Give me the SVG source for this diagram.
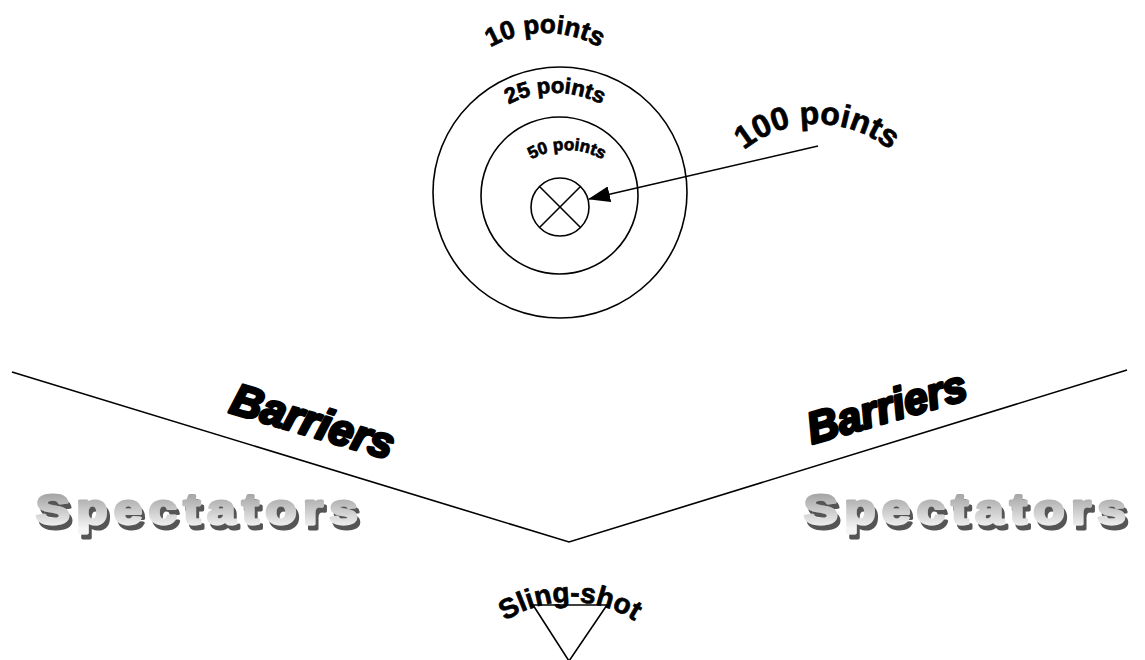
<svg xmlns="http://www.w3.org/2000/svg" width="1145" height="660" viewBox="0 0 1145 660">
<style>
.ln{fill:none;stroke:#000;stroke-width:1.6}
.lbl{font-family:"Liberation Sans",Arial,sans-serif;font-weight:bold;fill:#000;stroke:#000;stroke-width:0.7}
.bar{font-family:"Liberation Sans",Arial,sans-serif;font-weight:bold;font-style:italic;fill:#000;stroke:#000;stroke-width:3;stroke-linejoin:round;font-size:44px}
.spec{font-family:"Liberation Sans",Arial,sans-serif;font-weight:bold;font-size:42px;fill:url(#sg);stroke:url(#sg);stroke-width:3;stroke-linejoin:round;filter:url(#sh)}
</style>
<defs>
<marker id="ah" markerWidth="22" markerHeight="16" refX="21" refY="8" orient="auto" markerUnits="userSpaceOnUse">
<path d="M0,0 L22,8 L0,16 Z" fill="#000"/>
</marker>
<linearGradient id="sg" x1="0" y1="-32" x2="0" y2="4" gradientUnits="userSpaceOnUse">
<stop offset="0" stop-color="#a0a0a0"/>
<stop offset="1" stop-color="#f4f4f4"/>
</linearGradient>
<filter id="sh" x="-5%" y="-20%" width="115%" height="150%">
<feOffset in="SourceAlpha" dx="2.5" dy="5" result="o"/>
<feFlood flood-color="#555"/>
<feComposite in2="o" operator="in" result="s"/>
<feMerge><feMergeNode in="s"/><feMergeNode in="SourceGraphic"/></feMerge>
</filter>
<path id="a10" d="M435,143 A110,110 0 0 1 655,143"/>
<path id="a25" d="M455,193 A100,100 0 0 1 655,193"/>
<path id="a50" d="M497,220 A70,70 0 0 1 637,220"/>
<path id="a100" d="M702,239 A115,115 0 0 1 932,239"/>
<path id="asl" d="M450,722 A120,120 0 0 1 690,722"/>
</defs>
<rect width="1145" height="660" fill="#fff"/>
<g id="target">
<ellipse class="ln" cx="560" cy="192.5" rx="127" ry="125.5"/>
<circle class="ln" cx="559.5" cy="195.5" r="78.5"/>
<circle class="ln" cx="560" cy="207" r="29"/>
<line class="ln" x1="539.5" y1="186.5" x2="580.5" y2="227.5"/>
<line class="ln" x1="580.5" y1="186.5" x2="539.5" y2="227.5"/>
</g>
<g id="label-10"><text class="lbl" font-size="26" text-anchor="middle"><textPath href="#a10" startOffset="50%">10 points</textPath></text></g>
<g id="label-25"><text class="lbl" font-size="22" text-anchor="middle"><textPath href="#a25" startOffset="50%">25 points</textPath></text></g>
<g id="label-50"><text class="lbl" font-size="17" text-anchor="middle"><textPath href="#a50" startOffset="50%">50 points</textPath></text></g>
<g id="label-100"><text class="lbl" font-size="32" text-anchor="middle"><textPath href="#a100" startOffset="50%">100 points</textPath></text></g>
<g id="connectors">
<line class="ln" x1="818" y1="146" x2="589" y2="199" marker-end="url(#ah)"/>
</g>
<g id="barriers">
<polyline class="ln" points="12,372 569,542 1127,370"/>
<text class="bar" transform="translate(228,412) rotate(16.5)" textLength="168" lengthAdjust="spacingAndGlyphs">Barriers</text>
<text class="bar" transform="translate(812,444) rotate(-16)" textLength="164" lengthAdjust="spacingAndGlyphs">Barriers</text>
</g>
<g id="spectators-left">
<text class="spec" transform="translate(36,524) scale(1.2,1)" textLength="268" lengthAdjust="spacing">Spectators</text>
</g>
<g id="spectators-right">
<text class="spec" transform="translate(804,524) scale(1.2,1)" textLength="268" lengthAdjust="spacing">Spectators</text>
</g>
<g id="slingshot">
<polygon class="ln" points="533,605 607,605 569,661"/>
<text class="lbl" font-size="28" text-anchor="middle"><textPath href="#asl" startOffset="50%">Sling-shot</textPath></text>
</g>
</svg>
